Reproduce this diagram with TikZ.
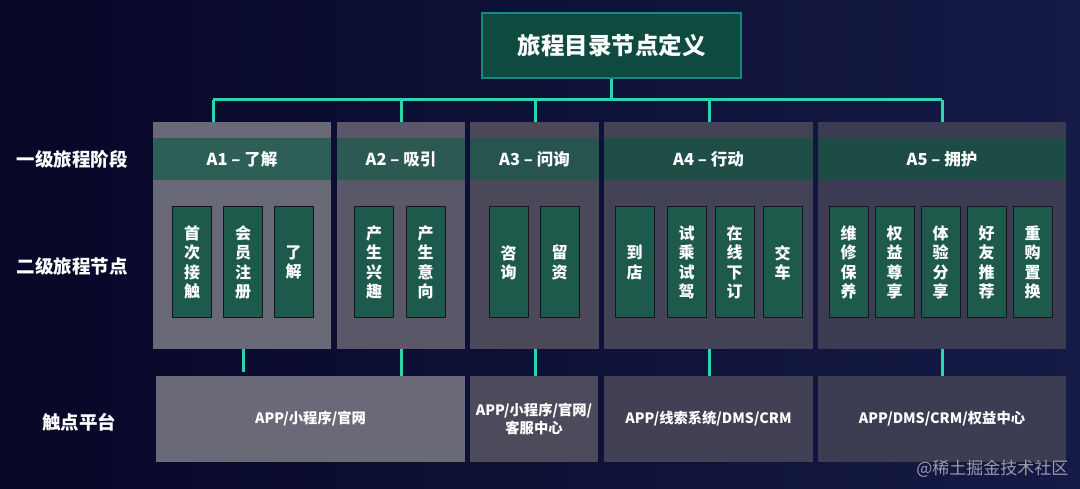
\documentclass[tikz,border=0pt]{standalone}
\usepackage{fontspec}
\setmainfont{Noto Sans CJK SC}
\usetikzlibrary{calc}
\definecolor{bgL}{HTML}{070727}
\definecolor{bgR}{HTML}{151B46}
\definecolor{linec}{HTML}{2BD6A8}
\definecolor{titlef}{HTML}{0F4A40}
\definecolor{titled}{HTML}{17897A}
\definecolor{leafc}{HTML}{1D5A4B}
\definecolor{leafb}{HTML}{14151F}
\definecolor{sA}{HTML}{6A6978}
\definecolor{sB}{HTML}{5A5868}
\definecolor{sC}{HTML}{4B4959}
\definecolor{sD}{HTML}{434257}
\definecolor{sE}{HTML}{3B3B53}
\definecolor{bA}{HTML}{2E5F56}
\definecolor{bB}{HTML}{2C5A52}
\definecolor{bC}{HTML}{285450}
\definecolor{bD}{HTML}{1F4E46}
\definecolor{bE}{HTML}{1D4B45}
\definecolor{pA}{HTML}{6A6978}
\definecolor{pB}{HTML}{4D4B5B}
\definecolor{pC}{HTML}{414055}
\definecolor{pD}{HTML}{3C3C52}
\definecolor{wm}{HTML}{9A9AAA}
\tikzset{
  stagebox/.style={draw=none, minimum height=227pt, inner sep=0pt},
  band/.style={minimum height=42pt, inner sep=0pt, text=white, font=\bfseries\fontsize{16.5}{19}\selectfont},
  leaf/.style={fill=leafc, draw=leafb, line width=1pt, minimum width=39pt, minimum height=111pt, inner sep=0pt, text=white, align=center, font=\bfseries\fontsize{16}{19.3}\selectfont},
  plat/.style={minimum height=86pt, inner sep=0pt, text=white, align=center, font=\bfseries\fontsize{14.3}{18}\selectfont},
  link/.style={draw=linec, line width=3pt},
  side/.style={text=white, font=\bfseries\fontsize{18.5}{22}\selectfont},
  titlebox/.style={fill=titlef, draw=titled, line width=1.5pt, minimum width=259pt, minimum height=65pt, inner sep=0pt, text=white, font=\bfseries\fontsize{23.5}{28}\selectfont},
}
\begin{document}
\begin{tikzpicture}[x=1pt,y=-1pt]
\shade[left color=bgL, right color=bgR] (0,0) rectangle (1080,489);
\useasboundingbox (0,0) rectangle (1080,489);

% title
\node[titlebox] (title) at (611.5,45.5) {旅程目录节点定义};

% stage boxes
\node[stagebox, fill=sA, minimum width=178pt] (A1) at (242,235.5) {};
\node[stagebox, fill=sB, minimum width=128pt] (A2) at (401,235.5) {};
\node[stagebox, fill=sC, minimum width=129pt] (A3) at (534.5,235.5) {};
\node[stagebox, fill=sD, minimum width=209pt] (A4) at (708.5,235.5) {};
\node[stagebox, fill=sE, minimum width=248pt] (A5) at (942,235.5) {};

% header bands
\node[band, fill=bA, minimum width=178pt] (h1) at (242,159) {A1 – 了解};
\node[band, fill=bB, minimum width=128pt] (h2) at (401,159) {A2 – 吸引};
\node[band, fill=bC, minimum width=129pt] (h3) at (534.5,159) {A3 – 问询};
\node[band, fill=bD, minimum width=209pt] (h4) at (708.5,159) {A4 – 行动};
\node[band, fill=bE, minimum width=248pt] (h5) at (942,159) {A5 – 拥护};

% leaves
\node[leaf] (l11) at (192,262.5) {首\\次\\接\\触};
\node[leaf] (l12) at (243,262.5) {会\\员\\注\\册};
\node[leaf] (l13) at (293.5,262.5) {了\\解};
\node[leaf] (l21) at (374,262.5) {产\\生\\兴\\趣};
\node[leaf] (l22) at (425.5,262.5) {产\\生\\意\\向};
\node[leaf] (l31) at (508.5,262.5) {咨\\询};
\node[leaf] (l32) at (559.5,262.5) {留\\资};
\node[leaf] (l41) at (634.5,262.5) {到\\店};
\node[leaf] (l42) at (686.5,262.5) {试\\乘\\试\\驾};
\node[leaf] (l43) at (734.5,262.5) {在\\线\\下\\订};
\node[leaf] (l44) at (782.5,262.5) {交\\车};
\node[leaf] (l51) at (848.5,262.5) {维\\修\\保\\养};
\node[leaf] (l52) at (894.5,262.5) {权\\益\\尊\\享};
\node[leaf] (l53) at (940.5,262.5) {体\\验\\分\\享};
\node[leaf] (l54) at (986.5,262.5) {好\\友\\推\\荐};
\node[leaf] (l55) at (1032.5,262.5) {重\\购\\置\\换};

% platforms
\node[plat, fill=pA, minimum width=309pt] (P1) at (310.5,419) {APP/小程序/官网};
\node[plat, fill=pB, minimum width=128pt] (P2) at (534,419) {APP/小程序/官网/\\客服中心};
\node[plat, fill=pC, minimum width=209pt] (P3) at (708.5,419) {APP/线索系统/DMS/CRM};
\node[plat, fill=pD, minimum width=248pt] (P4) at (942,419) {APP/DMS/CRM/权益中心};

% side labels
\node[side] (s1) at (72,159) {一级旅程阶段};
\node[side] (s2) at (72,266) {二级旅程节点};
\node[side] (s3) at (79,422) {触点平台};

% bus
\coordinate (bus0) at (611.5,100);
\coordinate (bus1) at (213,100);
\coordinate (bus2) at (401,100);
\coordinate (bus3) at (535,100);
\coordinate (bus4) at (709,100);
\coordinate (bus5) at (942,100);
\draw[link] (title.south) -- (bus0);
\draw[link] (bus1) -- (bus5);
\draw[link] (bus1) -- (bus1 |- A1.north);
\draw[link] (bus2) -- (bus2 |- A2.north);
\draw[link] (bus3) -- (bus3 |- A3.north);
\draw[link] (bus4) -- (bus4 |- A4.north);
\draw[link] (bus5) -- (bus5 |- A5.north);

% lower links
\coordinate (d1) at (243,349);
\draw[link, shorten >=4pt] (d1) -- (d1 |- P1.north);
\draw[link] (A2.south) -- (P2.north -| A2.south);
\draw[link] ($(A3.south)+(0.5,0)$) -- ($(P2.north -| A3.south)+(0.5,0)$);
\draw[link] ($(A4.south)+(0.5,0)$) -- ($(P3.north -| A4.south)+(0.5,0)$);
\draw[link] (A5.south) -- (P4.north);

% watermark
\node[anchor=east, text=wm, font=\fontsize{17}{20}\selectfont] (wmk) at (1072,469) {@稀土掘金技术社区};
\end{tikzpicture}
\end{document}
